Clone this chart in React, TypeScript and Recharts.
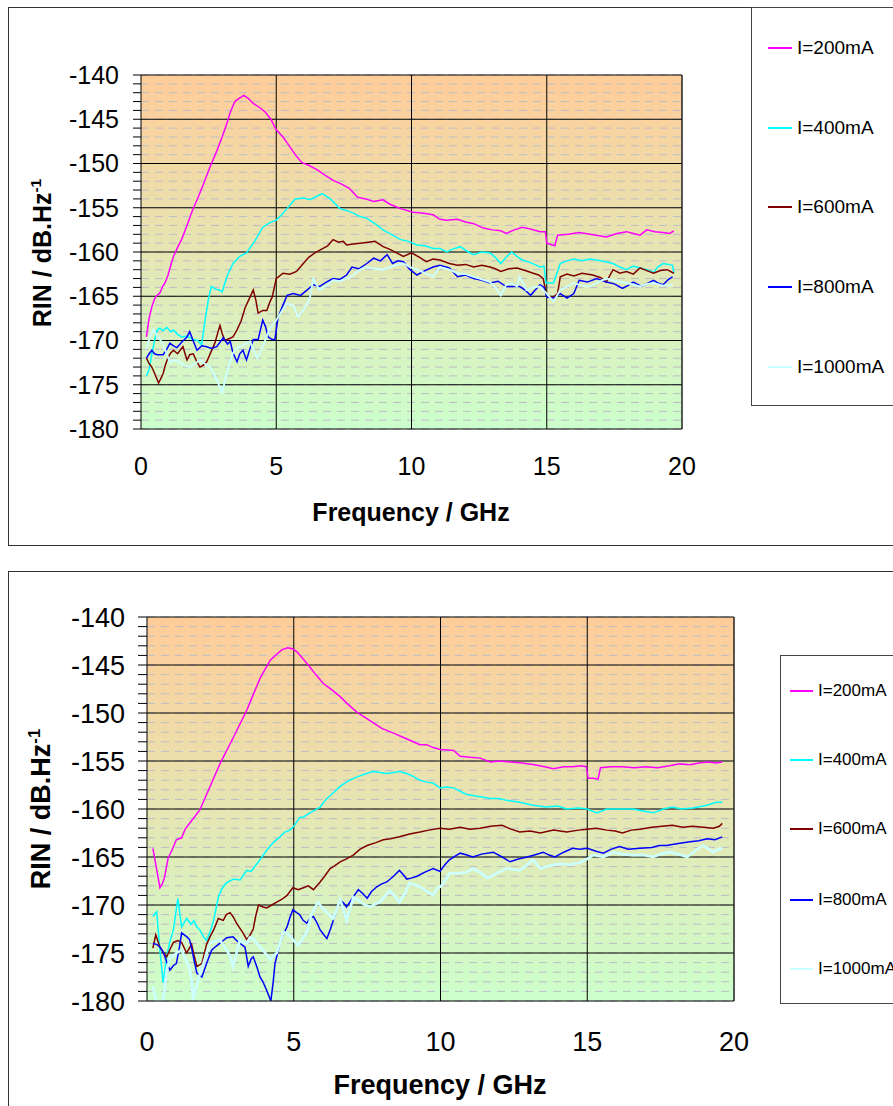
import React from "react";
import {
  LineChart,
  Line,
  XAxis,
  YAxis,
  CartesianGrid,
  ReferenceLine,
} from "recharts";

type Pt = [number, number];

const seriesNames = ["I=200mA", "I=400mA", "I=600mA", "I=800mA", "I=1000mA"];
const seriesColors = ["#FF00FF", "#00FFFF", "#800000", "#0000FF", "#CCFFFF"];

const freqTicks = [0, 5, 10, 15, 20];
const freqMajor = [5, 10, 15];
const rinMajor = [-175, -170, -165, -160, -155, -150, -145];
const rinTicks = [
  -180, -179, -178, -177, -176, -175, -174, -173, -172, -171, -170, -169, -168, -167,
  -166, -165, -164, -163, -162, -161, -160, -159, -158, -157, -156, -155, -154, -153,
  -152, -151, -150, -149, -148, -147, -146, -145, -144, -143, -142, -141, -140,
];

// ---- upper chart ----
const top200: Pt[] = [
  [0.2, -169.6], [0.3, -167.5], [0.4, -166.2], [0.5, -165.3], [0.6, -164.9], [0.7, -164.6],
  [0.8, -163.9], [0.9, -163.4], [1.0, -162.6], [1.1, -161.5], [1.2, -160.5], [1.35, -159.5],
  [1.5, -158.6], [1.7, -157.0], [1.9, -155.3], [2.1, -153.9], [2.3, -152.4], [2.55, -150.4],
  [2.8, -148.6], [3.0, -147.0], [3.17, -145.5], [3.3, -144.2], [3.47, -143.0], [3.6, -142.7],
  [3.8, -142.3], [3.95, -142.6], [4.15, -143.2], [4.4, -143.7], [4.6, -144.2], [4.8, -145.0],
  [5.0, -146.2], [5.25, -147.0], [5.5, -148.1], [5.7, -149.0], [5.95, -149.9], [6.2, -150.2],
  [6.5, -150.7], [6.8, -151.3], [7.1, -151.9], [7.4, -152.3], [7.7, -152.8], [8.0, -153.8],
  [8.3, -154.0], [8.6, -154.3], [8.95, -154.1], [9.2, -154.6], [9.6, -155.1], [10.06, -155.5],
  [10.4, -155.6], [10.8, -155.8], [11.05, -156.3], [11.3, -156.4], [11.7, -156.3], [12.0, -156.6],
  [12.3, -156.8], [12.65, -157.3], [13.0, -157.5], [13.3, -157.6], [13.5, -157.9], [13.8, -157.5],
  [14.1, -157.2], [14.4, -157.4], [14.75, -157.7], [14.95, -157.7], [15.0, -159.0], [15.3, -159.3],
  [15.4, -158.1], [15.8, -158.0], [16.2, -157.8], [16.6, -158.0], [17.0, -158.2], [17.2, -158.3],
  [17.6, -157.9], [17.95, -157.7], [18.2, -157.9], [18.45, -158.1], [18.7, -157.5], [19.0, -157.7],
  [19.3, -157.8], [19.55, -157.9], [19.7, -157.6],
];

const top400: Pt[] = [
  [0.2, -174.0], [0.3, -173.3], [0.4, -171.5], [0.5, -170.0], [0.6, -168.8], [0.7, -168.6],
  [0.82, -168.9], [0.95, -168.5], [1.1, -169.0], [1.2, -168.8], [1.35, -169.3], [1.5, -169.6],
  [1.7, -169.5], [1.93, -169.9], [2.1, -170.0], [2.24, -170.5], [2.37, -167.7], [2.5, -165.2],
  [2.6, -163.9], [2.75, -164.2], [2.9, -164.3], [3.0, -164.5], [3.2, -162.6], [3.4, -161.3],
  [3.65, -160.5], [3.9, -160.1], [4.2, -158.8], [4.5, -157.2], [4.75, -156.7], [5.0, -156.4],
  [5.2, -155.8], [5.4, -155.1], [5.7, -154.0], [6.0, -153.9], [6.25, -154.1], [6.5, -153.7],
  [6.7, -153.4], [7.0, -154.0], [7.35, -155.1], [7.6, -155.3], [7.85, -155.6], [8.1, -156.0],
  [8.35, -156.2], [8.7, -156.9], [8.95, -157.5], [9.3, -158.1], [9.6, -158.6], [9.9, -158.8],
  [10.2, -159.2], [10.5, -159.3], [10.8, -159.6], [11.05, -159.6], [11.3, -160.0], [11.5, -159.7],
  [11.8, -159.4], [12.1, -160.0], [12.3, -160.3], [12.6, -160.0], [12.9, -160.1], [13.1, -160.6],
  [13.3, -161.3], [13.5, -160.6], [13.7, -160.0], [13.9, -160.5], [14.1, -160.9], [14.4, -161.2],
  [14.75, -161.7], [14.9, -161.6], [14.97, -163.5], [15.25, -163.5], [15.5, -161.3], [15.75, -161.0],
  [16.0, -160.8], [16.3, -161.0], [16.6, -160.8], [17.0, -161.0], [17.45, -161.3], [17.7, -161.7],
  [17.95, -162.0], [18.2, -161.6], [18.45, -161.8], [18.7, -162.0], [18.95, -162.3], [19.1, -161.7],
  [19.3, -161.3], [19.5, -161.4], [19.65, -161.5], [19.7, -162.4],
];

const top600: Pt[] = [
  [0.2, -172.0], [0.3, -172.6], [0.4, -173.0], [0.5, -173.7], [0.65, -174.8], [0.75, -174.2],
  [0.82, -173.7], [0.9, -172.8], [1.0, -171.9], [1.1, -171.4], [1.2, -171.1], [1.35, -171.5],
  [1.55, -170.7], [1.7, -172.2], [1.8, -171.6], [1.93, -171.5], [2.05, -172.3], [2.18, -173.0],
  [2.3, -172.8], [2.43, -172.4], [2.6, -171.2], [2.73, -170.3], [2.85, -169.0], [2.92, -168.3],
  [3.0, -169.2], [3.1, -170.0], [3.25, -169.8], [3.4, -169.6], [3.55, -168.8], [3.7, -167.8],
  [3.85, -166.3], [4.0, -165.3], [4.15, -164.3], [4.25, -165.5], [4.33, -166.9], [4.5, -166.6],
  [4.65, -166.6], [4.77, -165.6], [4.85, -165.1], [5.0, -163.0], [5.25, -162.4], [5.5, -162.5],
  [5.75, -162.2], [6.0, -161.3], [6.2, -160.6], [6.43, -160.1], [6.73, -159.6], [6.9, -159.3],
  [7.1, -158.6], [7.3, -158.9], [7.48, -158.8], [7.6, -159.2], [7.85, -159.1], [8.1, -159.0],
  [8.4, -158.9], [8.65, -158.8], [8.95, -159.4], [9.2, -159.7], [9.45, -160.1], [9.7, -160.5],
  [10.0, -160.1], [10.3, -160.6], [10.55, -161.1], [10.8, -160.8], [11.05, -160.9], [11.4, -161.3],
  [11.7, -161.5], [12.0, -161.4], [12.3, -161.7], [12.6, -161.5], [12.9, -161.7], [13.1, -161.9],
  [13.3, -162.2], [13.6, -161.9], [13.9, -161.8], [14.2, -162.1], [14.5, -162.4], [14.7, -162.6],
  [14.87, -163.0], [15.0, -165.0], [15.25, -165.1], [15.4, -164.7], [15.5, -162.8], [15.75, -162.5],
  [16.0, -162.7], [16.3, -162.4], [16.7, -162.6], [17.0, -162.9], [17.2, -163.4], [17.45, -162.0],
  [17.7, -162.4], [17.95, -162.2], [18.2, -162.5], [18.45, -161.8], [18.7, -162.1], [18.95, -162.4],
  [19.2, -162.1], [19.45, -162.0], [19.7, -162.4],
];

const top800: Pt[] = [
  [0.2, -172.0], [0.3, -171.5], [0.4, -171.1], [0.5, -171.5], [0.6, -171.6], [0.82, -171.6],
  [0.95, -171.0], [1.07, -170.3], [1.2, -170.6], [1.33, -170.8], [1.5, -170.2], [1.7, -169.6],
  [1.8, -169.0], [1.95, -170.2], [2.07, -171.1], [2.25, -170.6], [2.43, -170.7], [2.6, -170.9],
  [2.8, -170.7], [3.04, -169.7], [3.2, -170.4], [3.3, -170.1], [3.4, -171.4], [3.55, -172.4],
  [3.65, -171.5], [3.77, -171.1], [3.9, -172.2], [4.0, -171.2], [4.15, -169.9], [4.33, -169.9],
  [4.5, -167.7], [4.6, -168.4], [4.7, -169.6], [4.85, -169.9], [4.95, -169.9], [5.07, -167.3],
  [5.25, -166.0], [5.4, -164.9], [5.63, -164.7], [5.9, -164.9], [6.1, -164.4], [6.37, -163.7],
  [6.6, -163.9], [6.85, -163.4], [7.1, -163.0], [7.35, -163.1], [7.6, -162.6], [7.8, -161.7],
  [8.05, -161.9], [8.35, -161.3], [8.6, -160.7], [8.85, -161.0], [9.1, -160.3], [9.3, -161.3],
  [9.5, -161.0], [9.7, -161.1], [9.95, -162.0], [10.2, -162.6], [10.5, -162.1], [10.8, -161.7],
  [11.05, -161.5], [11.4, -161.8], [11.7, -162.8], [12.0, -162.6], [12.3, -163.0], [12.6, -163.2],
  [12.9, -163.5], [13.2, -163.3], [13.5, -163.9], [14.0, -163.9], [14.2, -164.3], [14.4, -164.9],
  [14.6, -164.2], [14.75, -163.7], [14.9, -164.0], [15.0, -165.1], [15.25, -165.2], [15.5, -164.7],
  [15.75, -165.2], [16.0, -164.7], [16.2, -163.2], [16.5, -163.4], [16.85, -163.0], [17.2, -163.4],
  [17.5, -163.6], [17.8, -164.1], [18.0, -163.8], [18.2, -163.4], [18.5, -163.9], [18.75, -163.5],
  [18.95, -163.2], [19.1, -163.5], [19.3, -163.7], [19.5, -163.1], [19.65, -162.8],
];

const top1000: Pt[] = [
  [0.2, -170.9], [0.3, -169.9], [0.45, -168.8], [0.6, -169.5], [0.8, -170.3], [0.95, -171.5],
  [1.07, -172.5], [1.25, -172.2], [1.45, -172.5], [1.6, -172.8], [1.8, -173.0], [2.0, -172.6],
  [2.18, -172.2], [2.35, -172.6], [2.55, -173.0], [2.7, -173.8], [2.85, -174.8], [3.0, -175.9],
  [3.1, -174.6], [3.17, -173.7], [3.3, -172.4], [3.4, -171.4], [3.55, -170.9], [3.66, -170.7],
  [3.85, -170.4], [4.03, -170.1], [4.15, -171.0], [4.3, -172.0], [4.4, -171.3], [4.5, -170.7],
  [4.65, -169.5], [4.77, -168.6], [5.0, -167.7], [5.2, -166.7], [5.4, -165.8], [5.63, -166.1],
  [5.8, -167.3], [6.0, -166.6], [6.15, -165.8], [6.25, -165.1], [6.37, -163.0], [6.6, -164.3],
  [6.85, -163.8], [7.1, -163.2], [7.35, -163.3], [7.6, -163.0], [7.85, -162.6], [8.1, -162.0],
  [8.35, -161.7], [8.65, -161.9], [8.95, -162.0], [9.3, -161.6], [9.7, -161.3], [9.95, -161.7],
  [10.2, -162.0], [10.5, -162.4], [10.8, -162.8], [11.05, -161.7], [11.4, -162.0], [11.7, -162.4],
  [12.0, -162.5], [12.3, -162.8], [12.6, -163.1], [12.9, -163.4], [13.1, -164.0], [13.3, -164.9],
  [13.5, -163.7], [13.7, -163.5], [13.9, -163.9], [14.0, -162.8], [14.25, -164.3], [14.5, -164.0],
  [14.75, -163.9], [15.0, -164.7], [15.25, -165.6], [15.5, -164.3], [15.75, -163.9], [16.0, -163.5],
  [16.3, -163.8], [16.6, -163.9], [16.9, -163.4], [17.2, -163.0], [17.6, -163.3], [17.95, -163.5],
  [18.2, -163.7], [18.45, -163.9], [18.7, -163.6], [18.95, -163.5], [19.3, -163.8], [19.65, -163.7],
];

// ---- lower chart ----
const bot200: Pt[] = [
  [0.2, -164.1], [0.3, -165.8], [0.44, -168.2], [0.52, -167.8], [0.6, -167.1], [0.72, -165.1],
  [0.85, -164.3], [1.0, -163.2], [1.18, -163.0], [1.3, -162.1], [1.5, -161.3], [1.8, -160.1],
  [2.1, -158.0], [2.5, -155.2], [2.95, -152.5], [3.4, -149.7], [3.85, -146.4], [4.2, -144.5],
  [4.45, -143.8], [4.6, -143.4], [4.8, -143.2], [4.95, -143.3], [5.1, -143.6], [5.3, -144.3],
  [5.55, -145.2], [5.75, -146.0], [6.0, -146.9], [6.3, -147.6], [6.58, -148.3], [6.85, -149.1],
  [7.15, -149.9], [7.4, -150.4], [7.7, -151.0], [8.0, -151.6], [8.4, -152.1], [8.7, -152.5],
  [9.07, -153.0], [9.3, -153.3], [9.53, -153.3], [9.75, -153.6], [10.0, -153.8], [10.45, -153.9],
  [10.67, -154.5], [11.0, -154.6], [11.35, -154.7], [11.7, -155.1], [12.0, -155.0], [12.4, -155.1],
  [12.8, -155.2], [13.2, -155.4], [13.55, -155.6], [13.85, -155.8], [14.2, -155.6], [14.5, -155.6],
  [14.8, -155.5], [14.97, -155.6], [15.03, -156.8], [15.2, -156.8], [15.37, -156.9], [15.45, -155.7],
  [15.8, -155.6], [16.2, -155.6], [16.6, -155.7], [17.0, -155.6], [17.4, -155.7], [17.8, -155.5],
  [18.15, -155.3], [18.5, -155.4], [18.8, -155.2], [19.1, -155.1], [19.4, -155.2], [19.6, -155.1],
];

const bot400: Pt[] = [
  [0.2, -171.2], [0.33, -170.7], [0.44, -174.7], [0.55, -178.1], [0.67, -175.4], [0.78, -173.8],
  [0.9, -172.6], [1.05, -169.3], [1.18, -172.3], [1.35, -171.4], [1.5, -172.0], [1.6, -171.6],
  [1.7, -172.3], [1.8, -172.6], [1.92, -173.3], [2.03, -173.7], [2.15, -172.8], [2.27, -171.6],
  [2.43, -169.2], [2.55, -168.3], [2.7, -167.7], [2.95, -167.3], [3.17, -167.4], [3.4, -166.4],
  [3.55, -166.5], [3.62, -166.2], [3.8, -165.5], [4.08, -164.3], [4.3, -163.5], [4.53, -162.9],
  [4.7, -162.4], [4.87, -162.2], [5.0, -161.8], [5.2, -160.9], [5.35, -160.8], [5.55, -160.4],
  [5.9, -159.8], [6.1, -159.0], [6.35, -158.3], [6.6, -157.6], [6.9, -157.0], [7.2, -156.6],
  [7.48, -156.3], [7.7, -156.1], [7.95, -156.2], [8.17, -156.3], [8.4, -156.2], [8.6, -156.1],
  [8.85, -156.3], [9.07, -156.6], [9.3, -157.0], [9.53, -157.2], [9.75, -157.3], [9.98, -157.8],
  [10.2, -157.7], [10.45, -157.8], [10.7, -158.2], [10.9, -158.5], [11.3, -158.7], [11.7, -158.9],
  [12.0, -158.9], [12.25, -159.1], [12.7, -159.3], [13.15, -159.6], [13.6, -159.8], [14.0, -159.7],
  [14.3, -160.0], [14.7, -159.9], [15.0, -160.0], [15.33, -160.4], [15.67, -160.0], [16.1, -160.0],
  [16.55, -160.0], [16.9, -160.2], [17.25, -160.4], [17.6, -160.0], [17.9, -159.8], [18.2, -160.0],
  [18.6, -159.9], [19.08, -159.6], [19.4, -159.3], [19.6, -159.3],
];

const bot600: Pt[] = [
  [0.2, -174.5], [0.3, -173.1], [0.44, -174.4], [0.55, -174.9], [0.67, -175.4], [0.8, -174.5],
  [0.9, -173.9], [1.05, -173.7], [1.18, -173.9], [1.35, -175.0], [1.52, -174.1], [1.6, -175.2],
  [1.7, -176.4], [1.87, -176.1], [2.03, -174.1], [2.15, -173.3], [2.27, -172.6], [2.43, -171.4],
  [2.6, -171.6], [2.7, -171.0], [2.83, -170.8], [2.95, -171.3], [3.05, -171.9], [3.27, -172.9],
  [3.4, -173.6], [3.5, -173.2], [3.62, -172.5], [3.7, -171.2], [3.8, -170.0], [3.95, -170.2],
  [4.08, -170.3], [4.25, -170.0], [4.42, -169.7], [4.6, -169.4], [4.77, -169.0], [4.97, -168.2],
  [5.15, -168.4], [5.33, -168.2], [5.5, -168.0], [5.67, -168.4], [5.9, -167.6], [6.05, -167.0],
  [6.24, -166.2], [6.4, -165.9], [6.58, -165.5], [6.8, -165.2], [7.03, -164.8], [7.25, -164.2],
  [7.5, -163.8], [7.8, -163.5], [8.05, -163.2], [8.3, -163.1], [8.6, -162.9], [8.95, -162.6],
  [9.3, -162.4], [9.6, -162.2], [9.98, -162.0], [10.3, -162.1], [10.67, -161.9], [11.0, -162.1],
  [11.35, -162.0], [11.7, -161.8], [12.1, -161.7], [12.4, -162.1], [12.7, -162.4], [13.05, -162.3],
  [13.4, -162.5], [13.85, -162.2], [14.3, -162.4], [14.7, -162.2], [15.0, -162.1], [15.3, -162.0],
  [15.67, -162.2], [15.95, -162.3], [16.2, -162.5], [16.5, -162.2], [16.8, -162.1], [17.2, -161.9],
  [17.55, -161.8], [17.9, -161.7], [18.25, -161.9], [18.6, -161.8], [18.95, -161.9], [19.3, -162.0],
  [19.5, -161.8], [19.6, -161.5],
];

const bot800: Pt[] = [
  [0.2, -174.0], [0.33, -174.1], [0.45, -174.4], [0.55, -174.9], [0.68, -176.0], [0.78, -176.8],
  [0.9, -176.3], [1.0, -176.1], [1.1, -174.5], [1.18, -172.9], [1.35, -173.3], [1.45, -173.6],
  [1.52, -174.5], [1.62, -176.0], [1.7, -177.1], [1.87, -177.5], [2.03, -176.1], [2.2, -174.7],
  [2.35, -174.3], [2.48, -174.0], [2.6, -173.7], [2.72, -173.4], [2.93, -173.3], [3.05, -173.7],
  [3.17, -174.0], [3.34, -174.4], [3.45, -176.4], [3.55, -175.6], [3.62, -175.4], [3.75, -176.5],
  [3.85, -177.5], [3.95, -178.0], [4.08, -178.9], [4.22, -180.0], [4.3, -178.0], [4.36, -176.1],
  [4.45, -175.0], [4.53, -174.0], [4.65, -173.0], [4.77, -172.3], [4.87, -171.3], [4.97, -170.5],
  [5.1, -170.8], [5.2, -171.0], [5.32, -171.6], [5.45, -171.9], [5.55, -171.4], [5.67, -171.2],
  [5.8, -171.9], [5.9, -172.6], [6.0, -173.0], [6.13, -173.5], [6.25, -172.5], [6.35, -171.6],
  [6.45, -170.6], [6.58, -169.5], [6.7, -169.8], [6.8, -170.2], [7.0, -169.3], [7.2, -168.4],
  [7.35, -168.8], [7.5, -169.3], [7.65, -168.6], [7.83, -168.1], [8.0, -167.8], [8.17, -167.6],
  [8.4, -167.0], [8.6, -166.4], [8.72, -166.8], [8.85, -167.3], [9.0, -167.2], [9.2, -167.0],
  [9.45, -166.6], [9.75, -166.2], [9.98, -166.5], [10.15, -165.8], [10.3, -165.3], [10.5, -164.9],
  [10.67, -164.6], [10.9, -164.8], [11.1, -165.0], [11.4, -164.7], [11.8, -164.5], [12.1, -165.0],
  [12.37, -165.5], [12.65, -165.2], [12.95, -165.0], [13.2, -164.8], [13.5, -164.5], [13.7, -164.8],
  [13.9, -165.0], [14.2, -164.5], [14.5, -164.1], [14.75, -164.2], [15.0, -164.1], [15.3, -164.4],
  [15.55, -164.6], [15.8, -164.2], [16.1, -163.9], [16.4, -164.2], [16.8, -164.1], [17.2, -164.0],
  [17.45, -163.8], [17.7, -163.8], [18.1, -163.6], [18.5, -163.4], [18.8, -163.3], [19.08, -163.1],
  [19.35, -163.2], [19.6, -162.9],
];

const bot1000: Pt[] = [
  [0.2, -178.5], [0.27, -179.5], [0.33, -180.0], [0.45, -180.0], [0.55, -180.0], [0.67, -176.8],
  [0.78, -175.5], [0.9, -175.3], [1.0, -175.0], [1.18, -174.7], [1.35, -175.9], [1.45, -176.6],
  [1.52, -177.8], [1.57, -180.0], [1.62, -179.2], [1.7, -178.3], [1.8, -177.2], [1.92, -176.1],
  [2.03, -175.0], [2.15, -174.0], [2.3, -173.8], [2.48, -173.6], [2.6, -174.2], [2.72, -174.7],
  [2.85, -175.5], [2.93, -176.4], [3.05, -175.0], [3.17, -173.6], [3.3, -173.9], [3.4, -174.0],
  [3.5, -173.4], [3.62, -173.5], [3.8, -174.2], [3.95, -174.7], [4.08, -175.2], [4.2, -175.7],
  [4.3, -175.3], [4.42, -175.0], [4.55, -173.8], [4.65, -172.8], [4.8, -173.0], [4.97, -173.6],
  [5.05, -173.9], [5.15, -174.2], [5.3, -173.5], [5.45, -172.8], [5.6, -171.0], [5.72, -170.3],
  [5.83, -169.7], [5.95, -170.2], [6.07, -170.6], [6.2, -171.0], [6.35, -171.4], [6.47, -170.4],
  [6.58, -169.4], [6.7, -170.5], [6.8, -171.6], [6.92, -170.4], [7.03, -169.2], [7.2, -169.5],
  [7.37, -169.9], [7.6, -170.2], [7.78, -169.9], [7.93, -169.7], [8.1, -169.1], [8.27, -168.5],
  [8.45, -169.1], [8.6, -169.7], [8.8, -168.7], [8.95, -167.7], [9.1, -167.9], [9.3, -168.1],
  [9.5, -168.5], [9.75, -169.0], [9.9, -168.2], [10.0, -168.1], [10.15, -167.5], [10.3, -166.7],
  [10.6, -166.7], [10.9, -166.6], [11.1, -166.2], [11.35, -166.6], [11.6, -167.2], [11.9, -166.7],
  [12.25, -166.2], [12.5, -166.3], [12.7, -166.4], [12.95, -165.8], [13.15, -165.3], [13.4, -166.2],
  [13.7, -165.9], [14.07, -165.7], [14.4, -165.8], [14.75, -165.6], [15.0, -165.2], [15.2, -164.8],
  [15.55, -165.0], [15.9, -164.5], [16.2, -164.7], [16.55, -164.8], [16.9, -164.8], [17.25, -165.0],
  [17.5, -164.7], [17.8, -164.5], [18.1, -164.7], [18.4, -165.0], [18.7, -164.3], [18.95, -163.8],
  [19.15, -164.2], [19.3, -164.5], [19.45, -164.2], [19.6, -164.1],
];

const toRows = (pts: Pt[]) => pts.map(([f, v]) => ({ f, v }));

const FONT = "Arial, 'Liberation Sans', sans-serif";

interface PanelCfg {
  id: string;
  top: number;
  width: number;
  height: number;
  margin: { top: number; right: number; bottom: number; left: number };
  fontSize: number;
  yTickSize: number;
  yTickMargin: number;
  xTickMargin: number;
  strokeW: number;
  lastStrokeW: number;
}

function Panel({ cfg, series }: { cfg: PanelCfg; series: Pt[][] }) {
  const tick = { fill: "#000", fontSize: cfg.fontSize, fontFamily: FONT };
  return (
    <div style={{ position: "absolute", left: 0, top: cfg.top }}>
      <LineChart width={cfg.width} height={cfg.height} margin={cfg.margin}>
        <defs>
          <linearGradient id={cfg.id} x1="0" y1="0" x2="0" y2="1">
            <stop offset="0%" stopColor="#FFCC99" />
            <stop offset="100%" stopColor="#CCFFCC" />
          </linearGradient>
        </defs>
        <CartesianGrid
          vertical={false}
          fill={`url(#${cfg.id})`}
          fillOpacity={1}
          stroke="#bdbdc6"
          strokeDasharray="8 6"
        />
        <XAxis
          dataKey="f"
          type="number"
          domain={[0, 20]}
          ticks={freqTicks}
          interval={0}
          tick={tick}
          tickLine={false}
          tickMargin={cfg.xTickMargin}
          axisLine={{ stroke: "#000" }}
          height={40}
        />
        <YAxis
          type="number"
          domain={[-180, -140]}
          ticks={rinTicks}
          interval={0}
          allowDataOverflow
          tick={tick}
          tickSize={cfg.yTickSize}
          tickMargin={cfg.yTickMargin}
          tickLine={{ stroke: "#000" }}
          axisLine={{ stroke: "#000" }}
          tickFormatter={(v: number) => (v % 5 === 0 ? String(v) : "")}
          width={100}
        />
        {rinMajor.map((y) => (
          <ReferenceLine key={`y${y}`} y={y} stroke="#000" strokeWidth={1} />
        ))}
        {freqMajor.map((x) => (
          <ReferenceLine key={`x${x}`} x={x} stroke="#000" strokeWidth={1} />
        ))}
        <ReferenceLine y={-140} stroke="#000" strokeWidth={1.2} />
        <ReferenceLine x={20} stroke="#222" strokeWidth={1.5} />
        {series.map((pts, i) => (
          <Line
            key={seriesNames[i]}
            data={toRows(pts)}
            dataKey="v"
            name={seriesNames[i]}
            type="linear"
            stroke={seriesColors[i]}
            strokeWidth={i === 4 ? cfg.lastStrokeW : cfg.strokeW}
            dot={false}
            activeDot={false}
            isAnimationActive={false}
          />
        ))}
      </LineChart>
    </div>
  );
}

function LegendBox({
  left,
  top,
  height,
  rows,
  lineLeft,
  lineW,
  lineH,
  fontSize,
}: {
  left: number;
  top: number;
  height: number;
  rows: number[];
  lineLeft: number;
  lineW: number;
  lineH: number;
  fontSize: number;
}) {
  return (
    <div
      style={{
        position: "absolute",
        left,
        top,
        width: 300,
        height,
        border: "1.5px solid #444",
        background: "#fff",
        boxSizing: "border-box",
      }}
    >
      {seriesNames.map((name, i) => (
        <div
          key={name}
          style={{
            position: "absolute",
            left: lineLeft,
            top: rows[i] - top,
            transform: "translateY(-50%)",
            display: "flex",
            alignItems: "center",
            whiteSpace: "nowrap",
            fontFamily: FONT,
            fontSize,
            color: "#000",
          }}
        >
          <span
            style={{
              display: "inline-block",
              width: lineW,
              height: lineH,
              background: seriesColors[i],
              marginRight: 5,
            }}
          />
          {name}
        </div>
      ))}
    </div>
  );
}

function YTitle({ x, y, size }: { x: number; y: number; size: number }) {
  return (
    <div
      style={{
        position: "absolute",
        left: x,
        top: y,
        transform: "translate(-50%, -50%) rotate(-90deg)",
        fontFamily: FONT,
        fontWeight: "bold",
        fontSize: size,
        whiteSpace: "nowrap",
        color: "#000",
      }}
    >
      RIN / dB.Hz<sup style={{ fontSize: "0.62em" }}>-1</sup>
    </div>
  );
}

function XTitle({ x, y, size }: { x: number; y: number; size: number }) {
  return (
    <div
      style={{
        position: "absolute",
        left: x,
        top: y,
        transform: "translate(-50%, -50%)",
        fontFamily: FONT,
        fontWeight: "bold",
        fontSize: size,
        whiteSpace: "nowrap",
        color: "#000",
      }}
    >
      Frequency / GHz
    </div>
  );
}

const upperCfg: PanelCfg = {
  id: "bgUpper",
  top: 0,
  width: 700,
  height: 480,
  margin: { top: 75, right: 18, bottom: 11, left: 41 },
  fontSize: 25,
  yTickSize: 8,
  yTickMargin: 14,
  xTickMargin: 22,
  strokeW: 1.5,
  lastStrokeW: 1.9,
};

const lowerCfg: PanelCfg = {
  id: "bgLower",
  top: 540,
  width: 760,
  height: 520,
  margin: { top: 77, right: 26, bottom: 19, left: 47 },
  fontSize: 27,
  yTickSize: 9,
  yTickMargin: 13,
  xTickMargin: 25,
  strokeW: 1.5,
  lastStrokeW: 2.6,
};

export default function App() {
  return (
    <div
      style={{
        position: "absolute",
        left: 0,
        top: 0,
        width: 893,
        height: 1106,
        overflow: "hidden",
        background: "#fff",
      }}
    >
      {/* chart frames */}
      <div
        style={{
          position: "absolute",
          left: 8,
          top: 7,
          width: 1000,
          height: 539,
          border: "1.5px solid #333",
          boxSizing: "border-box",
        }}
      />
      <div
        style={{
          position: "absolute",
          left: 8,
          top: 571,
          width: 1000,
          height: 700,
          border: "1.5px solid #333",
          boxSizing: "border-box",
        }}
      />

      <Panel cfg={upperCfg} series={[top200, top400, top600, top800, top1000]} />
      <Panel cfg={lowerCfg} series={[bot200, bot400, bot600, bot800, bot1000]} />

      <YTitle x={42} y={253} size={25} />
      <XTitle x={411} y={512} size={25} />
      <YTitle x={41} y={809} size={27} />
      <XTitle x={440} y={1085} size={27} />

      <LegendBox
        left={751}
        top={7}
        height={399}
        rows={[47, 127, 206, 286, 366]}
        lineLeft={16}
        lineW={24}
        lineH={1.5}
        fontSize={19}
      />
      <LegendBox
        left={780}
        top={655}
        height={349}
        rows={[690, 759, 828, 899, 968]}
        lineLeft={9}
        lineW={23}
        lineH={2.5}
        fontSize={17}
      />
    </div>
  );
}
